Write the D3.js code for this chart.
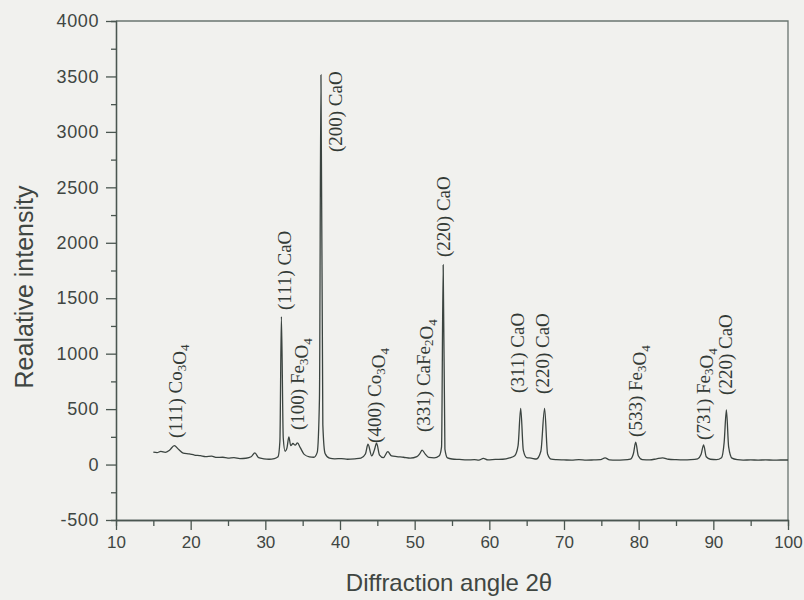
<!DOCTYPE html>
<html>
<head>
<meta charset="utf-8">
<script src="https://cdn.jsdelivr.net/npm/d3@7"></script>
<style>
  body { margin: 0; background: #f1f1ee; }
  svg { display: block; }
  .axis path, .axis line { stroke: #4a5650; stroke-width: 1.3; }
  .axis text { fill: #3f4642; font-family: "Liberation Sans", Arial, sans-serif; }
</style>
</head>
<body>
<script>
// XRD pattern (2 theta in degrees, relative intensity)
var twoTheta = [15, 15.5, 16, 16.6, 17.2, 17.8, 18.4, 19, 19.8, 20.5, 21.3, 22, 22.8, 23.5, 24.3, 25, 25.8, 26.6, 27.4, 28.1, 28.6, 29.1, 29.8, 30.5, 31.2, 31.7, 31.95, 32.15, 32.4, 32.65, 32.9, 33.15, 33.4, 33.7, 34.0, 34.3, 34.7, 35.2, 35.9, 36.5, 36.95, 37.25, 37.45, 37.7, 38.0, 38.6, 39.3, 40.2, 41, 42, 42.8, 43.4, 43.75, 44.25, 44.6, 44.9, 45.3, 45.8, 46.4, 46.9, 47.6, 48.5, 49.4, 50.3, 50.7, 51.0, 51.4, 51.9, 52.6, 53.3, 53.6, 53.82, 54.05, 54.4, 55, 56, 57, 58, 58.6, 59.2, 59.8, 60.8, 61.8, 62.7, 63.4, 63.85, 64.2, 64.55, 65, 65.6, 66.3, 66.9, 67.4, 67.8, 68.3, 69, 70, 71, 72, 73, 74, 74.9, 75.5, 76.1, 77, 78, 78.9, 79.3, 79.6, 79.95, 80.5, 81.5, 82.4, 83.2, 84, 85, 86, 87, 87.9, 88.35, 88.7, 89.05, 89.6, 90.4, 91.1, 91.45, 91.75, 92.05, 92.5, 93.2, 94, 95, 96, 97, 98, 99, 100];
var intensity = [112, 108, 118, 110, 132, 170, 135, 104, 96, 86, 80, 72, 76, 64, 66, 58, 62, 54, 57, 70, 105, 62, 52, 48, 54, 70, 210, 1334, 240, 120, 150, 250, 170, 190, 175, 195, 150, 92, 70, 66, 110, 600, 3513, 360, 100, 58, 52, 54, 48, 52, 58, 95, 183, 78, 130, 192, 85, 62, 116, 78, 72, 66, 58, 72, 100, 131, 96, 64, 60, 80, 160, 1800, 140, 60, 50, 46, 42, 44, 40, 56, 42, 46, 48, 60, 80, 170, 507, 130, 62, 58, 50, 120, 507, 95, 48, 44, 42, 40, 44, 40, 42, 44, 60, 42, 40, 42, 50, 100, 201, 80, 44, 42, 52, 60, 48, 44, 42, 44, 52, 90, 177, 70, 48, 44, 62, 200, 492, 160, 58, 44, 40, 42, 40, 42, 40, 41, 41];

var xTicks = [10, 20, 30, 40, 50, 60, 70, 80, 90, 100];
var xMinor = [15, 25, 35, 45, 55, 65, 75, 85, 95];
var yTicks = [-500, 0, 500, 1000, 1500, 2000, 2500, 3000, 3500, 4000];
var yMinor = [-250, 250, 750, 1250, 1750, 2250, 2750, 3250, 3750];

// peak labels: text (underscore = subscript digit), 2 theta, intensity at label foot
var peakLabels = ["(111) Co_3O_4", "(111) CaO", "(100) Fe_3O_4", "(200) CaO", "(400) Co_3O_4", "(331) CaFe_2O_4", "(220) CaO", "(311) CaO", "(220) CaO", "(533) Fe_3O_4", "(731) Fe_3O_4", "(220) CaO"];
var labelTheta = [17.9, 32.55, 34.3, 39.4, 44.65, 51.1, 53.8, 63.75, 67.1, 79.6, 88.6, 91.55];
var labelFoot = [240, 1394, 312, 2818, 195, 294, 1872, 646, 637, 249, 222, 628];

var margin = {top: 21, right: 16, bottom: 80, left: 116},
    width = 804 - margin.left - margin.right,
    height = 600 - margin.top - margin.bottom;

var x = d3.scaleLinear().domain([10, 100]).range([0, width]);
var y = d3.scaleLinear().domain([-500, 4000]).range([height, 0]);

var svg = d3.select("body").append("svg")
    .attr("width", 804)
    .attr("height", 600)
  .append("g")
    .attr("transform", "translate(" + margin.left + "," + margin.top + ")");

// frame top and right
svg.append("path")
    .attr("d", "M0,0H" + width + "V" + height)
    .attr("fill", "none")
    .attr("stroke", "#6a7570")
    .attr("stroke-width", 1.3);

var data = twoTheta.map(function(t, i) { return {t: t, v: intensity[i]}; });

var valueline = d3.line()
    .curve(d3.curveMonotoneX)
    .x(function(d) { return x(d.t); })
    .y(function(d) { return y(d.v); });

svg.append("path")
    .datum(data)
    .attr("fill", "none")
    .attr("stroke", "#3b4440")
    .attr("stroke-width", 1.3)
    .attr("d", valueline);

var plain = function(d) { return String(d); };

// axes
svg.append("g")
    .attr("class", "axis")
    .attr("transform", "translate(0," + height + ")")
    .call(d3.axisBottom(x).tickValues(xMinor).tickSize(6).tickFormat(""));

svg.append("g")
    .attr("class", "axis")
    .attr("transform", "translate(0," + height + ")")
    .call(d3.axisBottom(x).tickValues(xTicks).tickSize(10).tickSizeOuter(0).tickPadding(6).tickFormat(plain))
    .selectAll("text")
      .style("font-size", "17px");

svg.append("g")
    .attr("class", "axis")
    .call(d3.axisLeft(y).tickValues(yMinor).tickSize(5).tickFormat(""));

svg.append("g")
    .attr("class", "axis")
    .call(d3.axisLeft(y).tickValues(yTicks).tickSize(10).tickSizeOuter(0).tickPadding(7).tickFormat(plain))
    .selectAll("text")
      .style("font-size", "18px")
      .style("letter-spacing", "0.6px");

// peak labels
peakLabels.forEach(function(lbl, i) {
  var t = svg.append("text")
      .attr("transform", "translate(" + x(labelTheta[i]) + "," + y(labelFoot[i]) + ") rotate(-90)")
      .attr("dy", "0.35em")
      .attr("fill", "#333a36")
      .style("font-family", "'Liberation Serif', 'Times New Roman', serif")
      .style("font-size", "19px");
  var parts = lbl.split(/_(\d)/);
  parts.forEach(function(p, k) {
    if (k % 2 === 0) {
      if (p) t.append("tspan").text(p);
    } else {
      t.append("tspan")
          .attr("dy", "0.3em")
          .style("font-size", "13px")
          .text(p);
      t.append("tspan").attr("dy", "-0.3em").text("");
    }
  });
});

// axis titles
svg.append("text")
    .attr("x", 449 - margin.left)
    .attr("y", 591 - margin.top)
    .attr("text-anchor", "middle")
    .attr("fill", "#3f4642")
    .style("font-family", "'Liberation Sans', Arial, sans-serif")
    .style("font-size", "24px")
    .text("Diffraction angle 2\u03B8");

svg.append("text")
    .attr("transform", "rotate(-90)")
    .attr("x", -(287 - margin.top))
    .attr("y", 33 - margin.left)
    .attr("text-anchor", "middle")
    .attr("fill", "#3f4642")
    .style("font-family", "'Liberation Sans', Arial, sans-serif")
    .style("font-size", "25px")
    .text("Realative intensity");
</script>
</body>
</html>
